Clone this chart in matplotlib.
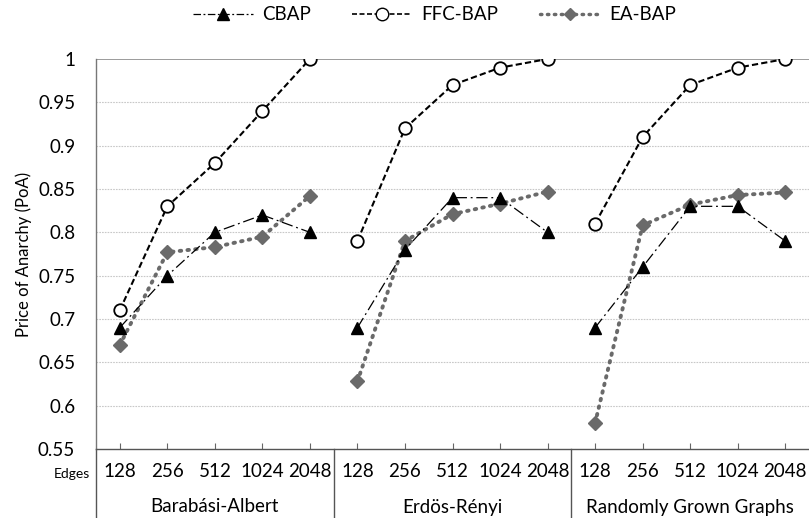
import matplotlib
matplotlib.use("Agg")
import matplotlib.pyplot as plt
from matplotlib.lines import Line2D

plt.rcParams['font.family'] = ['Lato', 'DejaVu Sans']

groups = ["Barabási-Albert", "Erdös-Rényi", "Randomly Grown Graphs"]
edges = ["128", "256", "512", "1024", "2048"]

cbap = [[0.69, 0.75, 0.80, 0.82, 0.80],
        [0.69, 0.78, 0.84, 0.84, 0.80],
        [0.69, 0.76, 0.83, 0.83, 0.79]]
ffc_bap = [[0.71, 0.83, 0.88, 0.94, 1.00],
           [0.79, 0.92, 0.97, 0.99, 1.00],
           [0.81, 0.91, 0.97, 0.99, 1.00]]
ea_bap = [[0.670, 0.777, 0.783, 0.795, 0.842],
          [0.628, 0.790, 0.821, 0.833, 0.847],
          [0.580, 0.808, 0.832, 0.843, 0.846]]

yticks = [0.55, 0.6, 0.65, 0.7, 0.75, 0.8, 0.85, 0.9, 0.95, 1.0]
ytick_labels = ["0.55", "0.6", "0.65", "0.7", "0.75", "0.8", "0.85", "0.9", "0.95", "1"]

W, H = 809, 518
fig = plt.figure(figsize=(W / 100, H / 100), dpi=100)
ax_l, ax_b, ax_t = 96 / W, 69 / H, (H - 59) / H
ax = fig.add_axes([ax_l, ax_b, 1.0 - ax_l, ax_t - ax_b])

n = len(edges)
ng = len(groups)
for g in range(ng):
    xs = [g * n + i for i in range(n)]
    ax.plot(xs, cbap[g], color='black', lw=0.9, dashes=(9, 3, 1.5, 3),
            marker='^', ms=9, mfc='black', mec='black', zorder=4)
    ax.plot(xs, ffc_bap[g], color='black', lw=1.5, dashes=(3, 1.5),
            marker='o', ms=9, mfc='white', mec='black', mew=1.3, zorder=5)
    ax.plot(xs, ea_bap[g], color='#6a6a6a', lw=2.8, dashes=(0.4, 1.6),
            dash_capstyle='round', marker='D', ms=7, mfc='#6a6a6a', mec='#6a6a6a', zorder=3)

ax.set_xlim(-0.5, ng * n - 0.5)
ax.set_ylim(0.55, 1.0)
ax.set_yticks(yticks)
ax.set_yticklabels(ytick_labels, fontsize=13.5)
ax.tick_params(axis='y', length=0, pad=15)
for y in yticks[1:-1]:
    ax.axhline(y, color='#c8c8c8', lw=0.8, ls=(0, (1.5, 1)), zorder=1)
ax.axhline(1.0, color='#8a8a8a', lw=1.2, zorder=1)

ax.set_xticks(range(ng * n))
ax.set_xticklabels(edges * ng, fontsize=13.5)
ax.tick_params(axis='x', direction='in', length=4, color='#666666', pad=10)

for s in ['top', 'right']:
    ax.spines[s].set_visible(False)
ax.spines['left'].set_color('#777777')
ax.spines['bottom'].set_color('#555555')
ax.spines['left'].set_linewidth(1.0)
ax.spines['bottom'].set_linewidth(1.0)

ax_h_px = (ax_t - ax_b) * H
drop = -ax_b * H / ax_h_px
trans = ax.get_xaxis_transform()
ax.plot([-0.5, -0.5], [0, drop], transform=trans, color='#555555', lw=1.0, clip_on=False)
for g in range(1, ng):
    xb = g * n - 0.5
    ax.plot([xb, xb], [0, drop], transform=trans, color='#555555', lw=1.0, clip_on=False)

for g in range(ng):
    ax.text(g * n + (n - 1) / 2, (449 - 507) / ax_h_px, groups[g], transform=trans,
            ha='center', va='center', fontsize=13.5)
ax.text(-0.62, (449 - 474) / ax_h_px, "Edges", transform=trans, ha='right', va='center', fontsize=10)

ax.set_ylabel("Price of Anarchy (PoA)", fontsize=12, labelpad=4)

handles = [
    Line2D([], [], color='black', lw=0.9, dashes=(6, 2, 1.5, 2), marker='^', ms=8, mfc='black'),
    Line2D([], [], color='black', lw=1.2, dashes=(3, 1.5), marker='o', ms=9, mfc='white', mec='black'),
    Line2D([], [], color='#6a6a6a', lw=2.5, dashes=(0.4, 1.6), dash_capstyle='round', marker='D', ms=6, mfc='#6a6a6a', mec='#6a6a6a'),
]
fig.legend(handles, ["CBAP", "FFC-BAP", "EA-BAP"], loc='center', bbox_to_anchor=(0.537, 1 - 15 / H),
           ncol=3, frameon=False, fontsize=13.5, handlelength=3.2, columnspacing=2.2, handletextpad=0.5)

fig.savefig("out.png", dpi=100)
